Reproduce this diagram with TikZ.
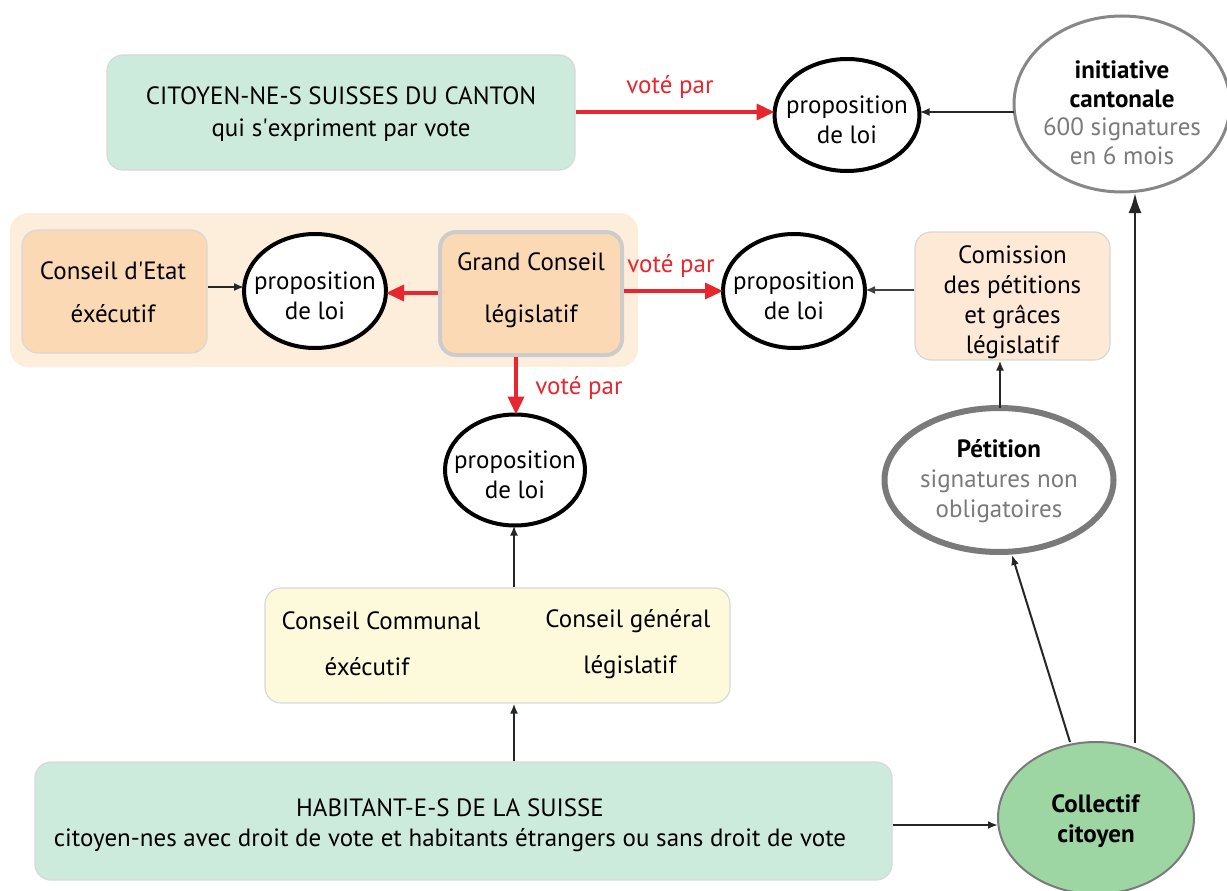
\documentclass[tikz,border=0pt]{standalone}
\usepackage{fontspec}
\setmainfont{PT Sans}
\usetikzlibrary{arrows.meta,shapes.geometric}
\definecolor{mint}{HTML}{CDEBDC}
\definecolor{peachbg}{HTML}{FDEEDB}
\definecolor{peach}{HTML}{FBD9B5}
\definecolor{peachlt}{HTML}{FDE9D5}
\definecolor{creme}{HTML}{FDFADC}
\definecolor{vert}{HTML}{9DD6A3}
\definecolor{rouge}{HTML}{E8262D}
\definecolor{grisbord}{HTML}{D8D8D8}
\definecolor{grist}{HTML}{7A7A7A}
\begin{document}
\begin{tikzpicture}[x=1pt,y=-1pt,
  txt/.style={font=\fontsize{25}{30}\selectfont, align=center, inner sep=0pt},
  box/.style={draw=grisbord, line width=1.2pt, rounded corners=16pt, inner sep=0pt},
  oval/.style={ellipse, inner sep=0pt, outer sep=0pt},
  prop/.style={oval, draw=black, line width=4pt, fill=white},
  blk/.style={draw=black!85, line width=2pt, -{Latex[length=10pt,width=8pt]}},
  red/.style={draw=rouge, line width=3.4pt, -{Triangle[length=18pt,width=16pt]}},
  redlab/.style={text=rouge, font=\fontsize{25}{28}\selectfont, inner sep=0pt}
]
\useasboundingbox (0,0) rectangle (1227,891);

% peach background group
\node[draw=none, fill=peachbg, rounded corners=18pt, minimum width=628pt, minimum height=154pt] (grp) at (324,290) {};

% top
\node[box, fill=mint, minimum width=468pt, minimum height=115pt] (cit) at (341,112.5) {};
\node[txt, font=\fontsize{25}{32}\selectfont] (citt) at (341,114) {CITOYEN-NE-S SUISSES DU CANTON\\qui s\textquotesingle expriment par vote};

\node[prop, minimum width=145pt, minimum height=112pt] (p1) at (847,115) {};
\node[txt] (p1t) at (847,120) {proposition\\de loi};

\node[oval, draw=grist!90, line width=3pt, fill=white, minimum width=216pt, minimum height=176pt] (ini) at (1122,104) {};
\node[txt, font=\fontsize{25}{28.5}\selectfont] (init) at (1122,113)
  {\textbf{initiative}\\\textbf{cantonale}\\\textcolor{grist}{600 signatures}\\\textcolor{grist}{en 6 mois}};

% middle row
\node[box, fill=peach, minimum width=185pt, minimum height=123pt] (ce) at (114.5,291.5) {};
\node[txt, font=\fontsize{25}{43}\selectfont] (cet) at (113,292) {Conseil d\textquotesingle Etat\\éxécutif};

\node[prop, minimum width=142pt, minimum height=114pt] (p2) at (315,291) {};
\node[txt] (p2t) at (315,296) {proposition\\de loi};

\node[box, draw=black!20, line width=4pt, fill=peach, minimum width=182pt, minimum height=123pt] (gc) at (531,293.5) {};
\node[txt, font=\fontsize{25}{52}\selectfont] (gct) at (531,290) {Grand Conseil\\législatif};

\node[prop, minimum width=142pt, minimum height=114pt] (p3) at (794,291) {};
\node[txt] (p3t) at (794,296) {proposition\\de loi};

\node[box, fill=peachlt, minimum width=195pt, minimum height=128pt] (com) at (1012.5,296) {};
\node[txt, font=\fontsize{25}{30}\selectfont] (comt) at (1012.5,302) {Comission\\des pétitions\\et grâces\\législatif};

% lower
\node[prop, minimum width=140pt, minimum height=111pt] (p4) at (515,470) {};
\node[txt] (p4t) at (515,475) {proposition\\de loi};

\node[oval, draw=grist, line width=6pt, fill=white, minimum width=229pt, minimum height=144pt] (pet) at (999,480) {};
\node[txt] (pett) at (999,481)
  {\textbf{Pétition}\\\textcolor{grist}{signatures non}\\\textcolor{grist}{obligatoires}};

\node[box, fill=creme, minimum width=465pt, minimum height=115pt] (cc) at (497.5,645.5) {};
\node[txt] (cc1) at (381,621) {Conseil Communal};
\node[txt] (cc2) at (367,667) {éxécutif};
\node[txt] (cg1) at (628,621) {Conseil général};
\node[txt] (cg2) at (630,667) {législatif};

\node[box, fill=mint, minimum width=857pt, minimum height=118pt] (hab) at (463.5,821) {};
\node[txt] (habt) at (450,825)
  {HABITANT-E-S DE LA SUISSE\\citoyen-nes avec droit de vote et habitants étrangers ou sans droit de vote};

\node[oval, draw=grist, line width=2pt, fill=vert, minimum width=196pt, minimum height=152pt] (col) at (1096,818) {};
\node[txt] (colt) at (1096,821) {\textbf{Collectif}\\\textbf{citoyen}};

% arrows
\draw[red] (cit.east |- 0,112) -- (p1.west |- 0,112);
\node[redlab] (v1) at (670,87) {voté par};
\draw[blk] (ini.west |- 0,112) -- (p1.east |- 0,112);
\draw[blk, line width=1.5pt] (ce.east |- 0,287) -- (p2.west |- 0,287);
\draw[red] (gc.west |- 0,293) -- (p2.east |- 0,293);
\draw[red] (gc.east |- 0,291) -- (p3.west |- 0,291);
\node[redlab] (v2) at (671,266) {voté par};
\draw[blk, draw=black!75] (com.west |- 0,290) -- (p3.east |- 0,290);
\draw[red] (gc.south -| 516,0) -- (p4.north -| 516,0);
\node[redlab] (v3) at (579,388) {voté par};
\draw[blk] (cc.north -| 514,0) -- (p4.south -| 514,0);
\draw[blk] (hab.north -| 514,0) -- (cc.south -| 514,0);
\draw[blk] (hab.east |- 0,825) -- (col.west |- 0,825);
\draw[blk] (pet.north -| 1000,0) -- (com.south -| 1000,0);
\coordinate (cpet) at (1070,742);
\coordinate (petin) at (1012,555);
\draw[blk] (cpet) -- (petin);
\coordinate (cini) at (1135,743);
\coordinate (iniin) at (1135,193);
\draw[draw=black!85, line width=2.4pt, -{Latex[length=20pt,width=13pt]}] (cini) -- (iniin);
\end{tikzpicture}
\end{document}
